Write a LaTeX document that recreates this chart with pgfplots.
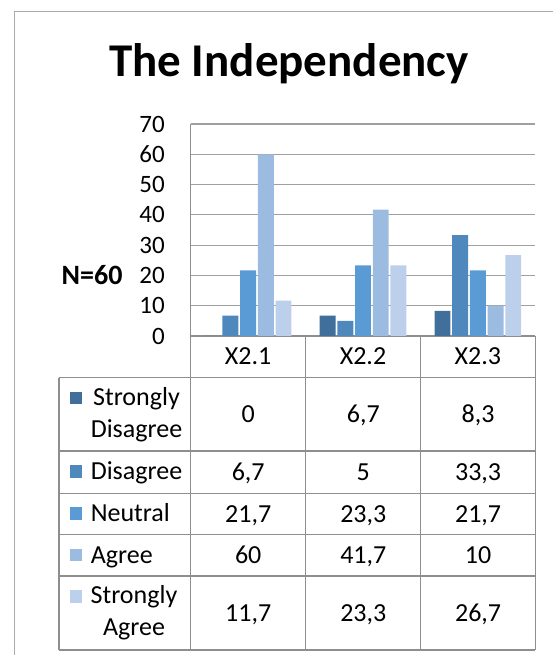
\documentclass[border=0pt]{standalone}
\usepackage{pgfplots}
\pgfplotsset{compat=1.18}
\usepackage{fontspec}
\setmainfont{Carlito}
\definecolor{cSD}{RGB}{64,111,156}
\definecolor{cD}{RGB}{78,136,189}
\definecolor{cN}{RGB}{91,155,213}
\definecolor{cA}{RGB}{156,187,225}
\definecolor{cSA}{RGB}{189,208,235}
\definecolor{gridgray}{RGB}{160,160,160}
\definecolor{linegray}{RGB}{142,142,142}
\definecolor{framegray}{RGB}{170,170,170}
\newcommand\fs{\fontsize{25}{30}\selectfont}
\newcommand\ft{\fontsize{26}{31}\selectfont}
\begin{document}
\begin{tikzpicture}[x=1pt,y=1pt]
\path[use as bounding box] (0,0) rectangle (553,655);
% outer chart frame
\draw[framegray, line width=1pt] (14,0) -- (14,643) -- (560,643);
% title
\node[anchor=base, font=\fontsize{47}{56}\selectfont\bfseries, inner sep=0pt] at (289,578) {The Independency};
% axis title
\node[anchor=base, font=\fontsize{28}{33}\selectfont\bfseries, inner sep=0pt] at (92.1,370) {N=60};
\begin{axis}[
  at={(190.7pt,319pt)}, anchor=south west,
  scale only axis, width=344.6pt, height=212pt,
  xmin=-0.5, xmax=2.5, ymin=0, ymax=70,
  ytick={0,10,20,30,40,50,60,70},
  xtick={0,1,2}, xticklabels={X2.1,X2.2,X2.3},
  axis x line*=bottom, axis y line*=left,
  axis line style={draw=linegray, line width=1.2pt},
  ymajorgrids, grid style={gridgray, line width=1.2pt},
  major tick length=0pt,
  ybar=1.8pt, bar width=15.9pt,
  yticklabel style={font=\fs},
  xticklabel style={font=\ft},
  /pgf/number format/assume math mode=true,
  yticklabel style={anchor=east, inner sep=0pt, xshift=-25.7pt},
  xticklabel style={anchor=base, inner sep=0pt, yshift=-29pt},
]
\addplot[fill=cSD, draw=none] coordinates {(0,0) (1,6.7) (2,8.3)};
\addplot[fill=cD, draw=none] coordinates {(0,6.7) (1,5) (2,33.3)};
\addplot[fill=cN, draw=none] coordinates {(0,21.7) (1,23.3) (2,21.7)};
\addplot[fill=cA, draw=none] coordinates {(0,60) (1,41.7) (2,10)};
\addplot[fill=cSA, draw=none] coordinates {(0,11.7) (1,23.3) (2,26.7)};
\end{axis}
% data table grid
\begin{scope}[linegray, line width=1.2pt]
\draw (190.7,319) -- (190.7,5);
\draw (305.8,319) -- (305.8,5);
\draw (420.8,319) -- (420.8,5);
\draw (535.4,319) -- (535.4,5);
\draw (58.9,204) -- (535.4,204);
\draw (58.9,161.7) -- (535.4,161.7);
\draw (58.9,120.3) -- (535.4,120.3);
\draw (58.9,79) -- (535.4,79);
\draw (58.9,5) -- (535.4,5);
\draw (58.9,277.3) -- (535.4,277.3);
\draw (58.9,277.3) -- (58.9,5);
\end{scope}
% legend keys
\fill[cSD] (69.5,250.65) rectangle (82.2,263.35);
\fill[cD] (69.5,176.95) rectangle (82.2,189.65);
\fill[cN] (69.5,135.35) rectangle (82.2,148.05);
\fill[cA] (69.5,93.65) rectangle (82.2,106.35);
\fill[cSA] (69.5,51.95) rectangle (82.2,64.65);
% row labels
\begin{scope}[every node/.style={inner sep=0pt, font=\ft}]
\node[anchor=base] at (136.5,249) {Strongly};
\node[anchor=base] at (136.5,217.3) {Disagree};
\node[anchor=base west] at (90.6,175.7) {Disagree};
\node[anchor=base west] at (90.6,133) {Neutral};
\node[anchor=base west] at (90.6,91.6) {Agree};
\node[anchor=base] at (134,51.7) {Strongly};
\node[anchor=base] at (134,19.3) {Agree};
% values
\node[anchor=base] at (248.2,232) {0};
\node[anchor=base] at (363.3,232) {6,7};
\node[anchor=base] at (478.1,232) {8,3};
\node[anchor=base] at (248.2,174.6) {6,7};
\node[anchor=base] at (363.3,174.6) {5};
\node[anchor=base] at (478.1,174.6) {33,3};
\node[anchor=base] at (248.2,132.7) {21,7};
\node[anchor=base] at (363.3,132.7) {23,3};
\node[anchor=base] at (478.1,132.7) {21,7};
\node[anchor=base] at (248.2,91.3) {60};
\node[anchor=base] at (363.3,91.3) {41,7};
\node[anchor=base] at (478.1,91.3) {10};
\node[anchor=base] at (248.2,33.7) {11,7};
\node[anchor=base] at (363.3,33.7) {23,3};
\node[anchor=base] at (478.1,33.7) {26,7};
\end{scope}
\end{tikzpicture}
\end{document}
